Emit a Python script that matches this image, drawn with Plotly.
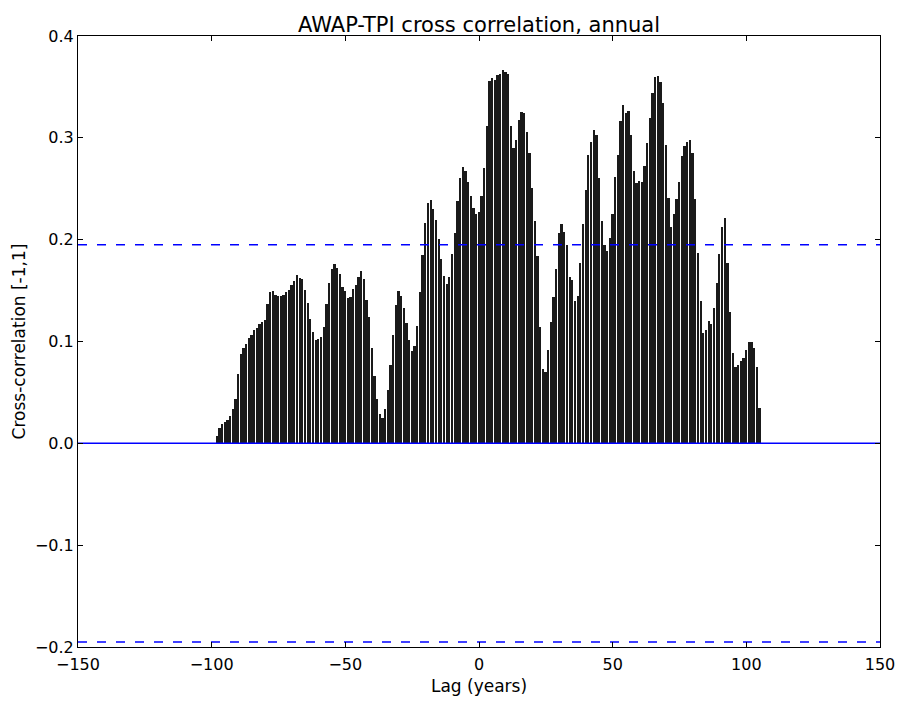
import plotly.graph_objects as go

# Lags (years) and cross-correlation values
lags = list(range(-98, 106))
xcorr = [
    0.007, 0.015, 0.019, 0.021, 0.023, 0.027, 0.034, 0.044, 0.068, 0.088,   # -98..-89
    0.094, 0.098, 0.103, 0.106, 0.111, 0.113, 0.117, 0.119, 0.121, 0.137,   # -88..-79
    0.149, 0.150, 0.146, 0.145, 0.145, 0.146, 0.149, 0.151, 0.155, 0.159,   # -78..-69
    0.165, 0.162, 0.161, 0.151, 0.138, 0.122, 0.109, 0.101, 0.102, 0.104,   # -68..-59
    0.114, 0.137, 0.157, 0.171, 0.176, 0.172, 0.166, 0.154, 0.150, 0.143,   # -58..-49
    0.144, 0.152, 0.155, 0.163, 0.169, 0.161, 0.141, 0.124, 0.094, 0.066,   # -48..-39
    0.044, 0.029, 0.025, 0.034, 0.052, 0.077, 0.106, 0.136, 0.150, 0.145,   # -38..-29
    0.133, 0.118, 0.101, 0.091, 0.096, 0.115, 0.149, 0.185, 0.216, 0.236,   # -28..-19
    0.239, 0.230, 0.219, 0.201, 0.181, 0.164, 0.156, 0.163, 0.186, 0.207,   # -18..-9
    0.238, 0.261, 0.271, 0.267, 0.257, 0.243, 0.231, 0.225, 0.227, 0.243,   # -8..1
    0.270, 0.312, 0.356, 0.359, 0.357, 0.362, 0.363, 0.367, 0.365, 0.363,   # 2..11
    0.312, 0.290, 0.298, 0.318, 0.325, 0.324, 0.306, 0.285, 0.251, 0.218,   # 12..21
    0.184, 0.114, 0.073, 0.070, 0.092, 0.119, 0.144, 0.171, 0.207, 0.215,   # 22..31
    0.208, 0.195, 0.163, 0.160, 0.140, 0.145, 0.177, 0.215, 0.249, 0.283,   # 32..41
    0.296, 0.308, 0.303, 0.261, 0.218, 0.195, 0.189, 0.202, 0.225, 0.262,   # 42..51
    0.283, 0.317, 0.332, 0.324, 0.326, 0.303, 0.267, 0.256, 0.258, 0.257,   # 52..61
    0.272, 0.295, 0.319, 0.344, 0.360, 0.361, 0.355, 0.334, 0.293, 0.241,   # 62..71
    0.212, 0.225, 0.240, 0.257, 0.282, 0.292, 0.296, 0.298, 0.285, 0.240,   # 72..81
    0.187, 0.140, 0.108, 0.111, 0.120, 0.117, 0.133, 0.157, 0.186, 0.212,   # 82..91
    0.221, 0.177, 0.129, 0.089, 0.075, 0.077, 0.081, 0.084, 0.092, 0.100,   # 92..101
    0.100, 0.094, 0.075, 0.035,                                             # 102..105
]
conf_level = 0.195           # significance threshold (dashed lines)
x_limits = [-150, 150]
y_limits = [-0.2, 0.4]
x_ticks = [-150, -100, -50, 0, 50, 100, 150]
y_ticks = [-0.2, -0.1, 0.0, 0.1, 0.2, 0.3, 0.4]

FONT = "DejaVu Sans"

fig = go.Figure()
fig.add_trace(go.Bar(
    x=lags, y=xcorr, width=0.66,
    marker=dict(color="#1a1a1a", line=dict(width=0)),
    showlegend=False, hoverinfo="x+y",
))
# zero line
fig.add_trace(go.Scatter(
    x=x_limits, y=[0, 0], mode="lines",
    line=dict(color="#0000ff", width=1.5), showlegend=False, hoverinfo="skip",
))
# confidence lines
for c in (conf_level, -conf_level):
    fig.add_trace(go.Scatter(
        x=x_limits, y=[c, c], mode="lines",
        line=dict(color="#0000ff", width=1.5, dash="9px,10px"),
        showlegend=False, hoverinfo="skip",
    ))

axis_common = dict(
    showline=True, linecolor="black", linewidth=1, mirror="ticks",
    ticks="inside", ticklen=5, tickwidth=1, tickcolor="black",
    showgrid=False, zeroline=False,
    tickfont=dict(family=FONT, size=16, color="black"),
)

fig.update_layout(
    width=907, height=704,
    margin=dict(l=78, r=18, t=36, b=55),
    paper_bgcolor="white", plot_bgcolor="white",
    bargap=0,
    title=dict(text="AWAP-TPI cross correlation, annual",
               font=dict(family=FONT, size=21, color="black"),
               x=0.5, xref="paper", xanchor="center",
               y=1, yref="paper", yanchor="bottom", pad=dict(b=4)),
    xaxis=dict(range=x_limits, tickvals=x_ticks,
               ticktext=[("\u2212" + str(-t)) if t < 0 else str(t) for t in x_ticks],
               ticklabelstandoff=3,
               title=dict(text="Lag (years)", font=dict(family=FONT, size=17, color="black"),
                          standoff=6),
               **axis_common),
    yaxis=dict(range=y_limits, tickvals=y_ticks,
               ticktext=[("\u2212" if t < 0 else "") + f"{abs(t):.1f}" for t in y_ticks],
               title=dict(text="Cross-correlation [-1,1]",
                          font=dict(family=FONT, size=17, color="black"), standoff=4),
               **axis_common),
)

fig.write_html("out.html")
